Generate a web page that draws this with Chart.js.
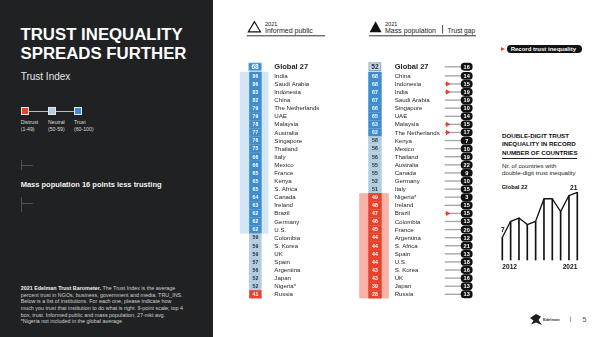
<!DOCTYPE html>
<html lang="en">
<head>
<meta charset="utf-8">
<title>Trust inequality spreads further</title>
<script src="https://cdn.jsdelivr.net/npm/chart.js@4.4.1/dist/chart.umd.min.js"></script>
<style>
  html, body { margin:0; padding:0; }
  body { position:relative; width:600px; height:337px; overflow:hidden; background:#fff;
         font-family:"Liberation Sans", Arial, Helvetica, sans-serif; color:#222; }
  .abs { position:absolute; }
  .txt { position:absolute; white-space:nowrap; line-height:1; }
  #side { left:0; top:0; width:213px; height:337px; background:#1f2123; }
  .sq { position:absolute; top:107.3px; width:7.7px; height:7.7px; box-sizing:border-box; border:0.8px solid #e6e6e6; }
</style>
</head>
<body>
<div id="side" class="abs"></div>

<!-- left panel -->
<div class="txt" style="left:20.5px;top:25.2px;font-size:16.8px;line-height:19.3px;font-weight:bold;color:#fff">TRUST INEQUALITY<br>SPREADS FURTHER</div>
<div class="txt" style="left:20.7px;top:71.5px;font-size:10px;color:#e6e6e6">Trust Index</div>

<div class="abs" style="left:29px;top:110.7px;width:45px;height:0.8px;background:#bdbdbd"></div>
<div class="sq" style="left:21.3px;background:#e8412c"></div>
<div class="sq" style="left:48px;background:#b3cde0"></div>
<div class="sq" style="left:74px;background:#3f8ccf"></div>
<div class="txt" style="left:20.7px;top:118.7px;font-size:5.2px;line-height:7px;color:#dcdcdc">Distrust<br>(1-49)</div>
<div class="txt" style="left:48px;top:118.7px;font-size:5.2px;line-height:7px;color:#dcdcdc">Neutral<br>(50-59)</div>
<div class="txt" style="left:74px;top:118.7px;font-size:5.2px;line-height:7px;color:#dcdcdc">Trust<br>(60-100)</div>

<div class="abs" style="left:21.3px;top:160px;width:0.8px;height:10px;background:#4d5053"></div>
<div class="abs" style="left:21.3px;top:164.6px;width:12px;height:0.8px;background:#4d5053"></div>
<div class="txt" style="left:20.7px;top:180.6px;font-size:7.5px;font-weight:bold;color:#f2f2f2">Mass population 16 points less trusting</div>
<div class="abs" style="left:21.3px;top:197.3px;width:0.8px;height:14.4px;background:#4d5053"></div>
<div class="abs" style="left:21.3px;top:202.9px;width:12px;height:0.8px;background:#4d5053"></div>

<div class="txt" style="left:20.7px;top:284.8px;font-size:5.4px;line-height:6.7px;color:#d0d0d0"><b style="color:#f0f0f0">2021 Edelman Trust Barometer.</b> The Trust Index is the average<br>percent trust in NGOs, business, government and media. TRU_INS.<br>Below is a list of institutions. For each one, please indicate how<br>much you trust that institution to do what is right. 9-point scale; top 4<br>box, trust. Informed public and mass population, 27-mkt avg.<br>*Nigeria not included in the global average</div>

<!-- column headers -->
<svg class="abs" style="left:0;top:0" width="600" height="40">
  <polygon points="248.4,31.8 254.4,21.6 260.4,31.8" fill="#fff" stroke="#111" stroke-width="1.2" stroke-linejoin="miter"/>
  <polygon points="369.6,32.2 375.6,21.2 381.6,32.2" fill="#111"/>
  <rect x="246.7" y="35.3" width="78.5" height="1" fill="#333"/>
  <rect x="369" y="35.3" width="107" height="1" fill="#333"/>
  <rect x="442.2" y="25" width="0.9" height="8.6" fill="#333"/>
</svg>
<div class="txt" style="left:265px;top:22px;font-size:5.6px;color:#222">2021</div>
<div class="txt" style="left:265px;top:27.1px;font-size:7px;color:#222">Informed public</div>
<div class="txt" style="left:385px;top:22px;font-size:5.6px;color:#222">2021</div>
<div class="txt" style="left:385px;top:27.1px;font-size:7px;color:#222">Mass population</div>
<div class="txt" style="left:447.5px;top:27.5px;font-size:6.6px;color:#222">Trust gap</div>

<!-- right-hand notes -->
<div class="abs" style="left:501px;top:46.6px;width:0;height:0;border-left:4.2px solid #e8412c;border-top:2.6px solid transparent;border-bottom:2.6px solid transparent"></div>
<div class="txt" style="left:506.7px;top:44.6px;width:75px;height:8px;border-radius:4px;background:#111;color:#fff;font-size:6px;line-height:8px;font-weight:bold;padding-left:4px;box-sizing:border-box">Record trust inequality</div>

<div class="txt" style="left:502px;top:132px;font-size:6.2px;line-height:8.3px;font-weight:bold;color:#111">DOUBLE-DIGIT TRUST<br>INEQUALITY IN RECORD<br>NUMBER OF COUNTRIES</div>
<div class="abs" style="left:502px;top:157.8px;width:75.3px;height:1px;background:#222"></div>
<div class="txt" style="left:502px;top:161.8px;font-size:6.2px;line-height:7.6px;color:#222">Nr. of countries with<br>double-digit trust inequality</div>
<div class="txt" style="left:501.7px;top:185.2px;font-size:5.7px;font-weight:bold;color:#111">Global 22</div>

<!-- footer -->
<svg class="abs" style="left:528px;top:312px" width="60" height="16">
  <path d="M2,6 L8,2 L13,4.5 L10.5,8 L14,13 L8,10.5 L3,12.5 L5.5,8.5 Z" fill="#1d1d1d"/>
  <text x="15" y="8.8" font-size="4" font-weight="bold" fill="#333" font-family="Liberation Sans, Arial, sans-serif">Edelman</text>
  <rect x="42" y="4.7" width="0.7" height="5.3" fill="#777"/>
</svg>
<div class="txt" style="left:582.4px;top:316px;font-size:7px;color:#555">5</div>

<canvas id="table" class="abs" width="600" height="337" style="left:0;top:0;width:600px;height:337px"></canvas>
<canvas id="spark" class="abs" width="92" height="96" style="left:494px;top:180px;width:92px;height:96px"></canvas>

<script>
// ---- data ----
const globalLabel = 'Global 27';
const globalInformed = 68;
const globalMass = 52;
const globalGap = 16;

const informedCountries = ['India','Saudi Arabia','Indonesia','China','The Netherlands','UAE','Malaysia','Australia',
  'Singapore','Thailand','Italy','Mexico','France','Kenya','S. Africa','Canada','Ireland','Brazil','Germany','U.S.',
  'Colombia','S. Korea','UK','Spain','Argentina','Japan','Nigeria*','Russia'];
const informedValues = [86,86,83,82,79,79,78,77,76,75,66,66,65,65,65,64,63,62,62,62,59,59,59,57,56,52,52,41];

const massCountries = ['China','Indonesia','India','Saudi Arabia','Singapore','UAE','Malaysia','The Netherlands',
  'Kenya','Mexico','Thailand','Australia','Canada','Germany','Italy','Nigeria*','Ireland','Brazil','Colombia','France',
  'Argentina','S. Africa','Spain','U.S.','S. Korea','UK','Japan','Russia'];
const massValues = [68,68,67,67,66,65,63,62,58,56,56,55,55,52,51,49,48,47,46,45,44,44,44,44,43,43,39,28];
const trustGap = [14,15,19,19,10,14,15,17,7,10,19,22,9,10,15,3,15,15,13,20,12,21,13,18,16,16,13,13];
const recordInequality = ['Indonesia','India','Malaysia','The Netherlands','Brazil'];

const sparkYears = ['2012','2013','2014','2015','2016','2017','2018','2019','2020','2021'];
const doubleDigitCounts = [7,12,13,11,12,19,19,15,20,21];

// ---- layout & style ----
const FONT = '"Liberation Sans", Arial, sans-serif';
const FILL = { trust:'#3f8ccf', neutral:'#b3cde0', distrust:'#e8412c' };
const INK  = { trust:'#ffffff', neutral:'#26333d', distrust:'#ffffff' };
const BAND = { trust:'#d3e6f8', distrust:'#f9b2a7' };
const GLOBAL_ROW = -0.12;       // header row sits a little apart from the country rows
const COL = {
  inf:  { box:[248.8,260.8], globalBox:[247.7,261.3], band:[239,268], nameX:274, bandFor:'trust' },
  mass: { box:[369.5,382.5], globalBox:[369.6,382.2], band:[360,390], nameX:396, bandFor:'distrust' },
  gap:  { line:[447,463.5], pill:[463.3,474.6], flagX:449.4 }
};
const PLOT = { top:44.14, bottom:317.9 };
const BOX_H = 7.6, GLOBAL_BOX_H = 8.4, PILL_H = 7.2;

function level(v){ return v >= 60 ? 'trust' : (v >= 50 ? 'neutral' : 'distrust'); }

const rows = (vals, span) => vals.map((v, i) => ({ x: span, y: i + 1, v }));

const datasets = [
  { label:'record', type:'scatter', order:-1,
    data: massCountries.map((c, i) => recordInequality.includes(c) ? { x: COL.gap.flagX, y: i + 1 } : null).filter(Boolean),
    pointStyle:'triangle', rotation:90, radius:3.1, backgroundColor:'#e8412c', borderWidth:0, clip:false },
  { label:'informed', type:'bar', data: rows(informedValues, COL.inf.box),
    backgroundColor: c => FILL[level(c.raw.v)], barThickness: BOX_H, grouped:false, clip:false },
  { label:'informedGlobal', type:'bar', data:[{ x: COL.inf.globalBox, y: GLOBAL_ROW, v: globalInformed }],
    backgroundColor: FILL.trust, borderColor:'#a8cdef', borderWidth:1, borderSkipped:false,
    barThickness: GLOBAL_BOX_H, grouped:false, clip:false },
  { label:'mass', type:'bar', data: rows(massValues, COL.mass.box),
    backgroundColor: c => FILL[level(c.raw.v)], barThickness: BOX_H, grouped:false, clip:false },
  { label:'massGlobal', type:'bar', data:[{ x: COL.mass.globalBox, y: GLOBAL_ROW, v: globalMass }],
    backgroundColor:'#cbdae6', borderColor:'#7e9bb0', borderWidth:1, borderSkipped:false,
    barThickness: GLOBAL_BOX_H, grouped:false, clip:false },
  { label:'gap', type:'bar',
    data: [{ x: COL.gap.pill, y: GLOBAL_ROW, v: globalGap }].concat(trustGap.map((g, i) => ({ x: COL.gap.pill, y: i + 1, v: g }))),
    backgroundColor:'#111111', borderRadius:3.6, borderSkipped:false, barThickness: PILL_H, grouped:false, clip:false },
  { label:'connector', type:'bar', order:1,
    data: [{ x: COL.gap.line, y: GLOBAL_ROW }].concat(trustGap.map((g, i) => ({ x: COL.gap.line, y: i + 1 }))),
    backgroundColor:'#a6a6a6', barThickness:0.7, grouped:false, clip:false }
];

function drawBand(ctx, xs, ys, col, vals){
  const idx = vals.map((v, i) => level(v) === col.bandFor ? i + 1 : null).filter(i => i !== null);
  if (!idx.length) return;
  const first = Math.min(...idx), last = Math.max(...idx);
  const x0 = xs.getPixelForValue(col.band[0]), x1 = xs.getPixelForValue(col.band[1]);
  const y0 = ys.getPixelForValue(first - 0.5), y1 = ys.getPixelForValue(last + 0.5);
  ctx.fillStyle = BAND[col.bandFor];
  ctx.fillRect(x0, Math.min(y0, y1), x1 - x0, Math.abs(y1 - y0));
}

const tableText = {
  id: 'tableText',
  beforeDatasetsDraw(chart){
    const { ctx, scales:{ x, y } } = chart;
    ctx.save();
    drawBand(ctx, x, y, COL.inf, informedValues);
    drawBand(ctx, x, y, COL.mass, massValues);
    ctx.restore();
  },
  afterDatasetsDraw(chart){
    const { ctx, scales:{ x, y } } = chart;
    const meta = name => chart.getDatasetMeta(chart.data.datasets.findIndex(d => d.label === name));
    ctx.save();
    ctx.textAlign = 'center';
    ctx.textBaseline = 'middle';

    // values inside the boxes
    const boxNumbers = (name, vals, size, ink) => {
      meta(name).data.forEach((el, i) => {
        const p = el.getCenterPoint();
        ctx.font = 'bold ' + size + 'px ' + FONT;
        ctx.fillStyle = ink || INK[level(vals[i])];
        ctx.fillText(String(vals[i]), p.x, p.y + 0.4);
      });
    };
    boxNumbers('informed', informedValues, 5.2);
    boxNumbers('mass', massValues, 5.2);
    boxNumbers('informedGlobal', [globalInformed], 6.6, '#ffffff');
    boxNumbers('massGlobal', [globalMass], 6.6, '#1e2a33');
    boxNumbers('gap', [globalGap].concat(trustGap), 5.6, '#ffffff');

    // row names
    ctx.textAlign = 'left';
    ctx.fillStyle = '#1e1e1e';
    ctx.font = 'bold 7.5px ' + FONT;
    ctx.fillText(globalLabel, x.getPixelForValue(COL.inf.nameX), y.getPixelForValue(GLOBAL_ROW) + 0.5);
    ctx.fillText(globalLabel, x.getPixelForValue(COL.mass.nameX), y.getPixelForValue(GLOBAL_ROW) + 0.5);
    ctx.font = '6.1px ' + FONT;
    informedCountries.forEach((c, i) => ctx.fillText(c, x.getPixelForValue(COL.inf.nameX), y.getPixelForValue(i + 1) + 0.4));
    massCountries.forEach((c, i) => ctx.fillText(c, x.getPixelForValue(COL.mass.nameX), y.getPixelForValue(i + 1) + 0.4));
    ctx.restore();
  }
};

new Chart(document.getElementById('table'), {
  type: 'bar',
  data: { datasets },
  options: {
    indexAxis: 'y',
    responsive: false,
    animation: false,
    devicePixelRatio: 1,
    events: [],
    layout: { padding: { top: PLOT.top, bottom: 337 - PLOT.bottom, left: 0, right: 0 } },
    scales: {
      x: { type: 'linear', min: 0, max: 600, display: false },
      y: { type: 'linear', min: -0.5, max: 28.5, reverse: true, display: false }
    },
    plugins: { legend: { display: false }, tooltip: { enabled: false } }
  },
  plugins: [tableText]
});

// ---- small trend chart: countries with double-digit trust inequality ----
const sparkText = {
  id: 'sparkText',
  afterDatasetsDraw(chart){
    const { ctx, chartArea } = chart;
    const pts = chart.getDatasetMeta(0).data;
    const first = pts[0], last = pts[pts.length - 1];
    ctx.save();
    ctx.fillStyle = '#111';
    ctx.font = 'bold 6.6px ' + FONT;
    ctx.textBaseline = 'alphabetic';
    ctx.textAlign = 'center';
    ctx.fillText(String(doubleDigitCounts[0]), first.x + 0.6, first.y - 5.6);
    ctx.textAlign = 'right';
    ctx.fillText(String(doubleDigitCounts[doubleDigitCounts.length - 1]), last.x, last.y - 2.4);
    ctx.textAlign = 'left';
    ctx.fillText(sparkYears[0], first.x, chartArea.bottom + 9.3);
    ctx.textAlign = 'right';
    ctx.fillText(sparkYears[sparkYears.length - 1], last.x, chartArea.bottom + 9.3);
    ctx.restore();
  }
};

new Chart(document.getElementById('spark'), {
  type: 'line',
  data: {
    labels: sparkYears,
    datasets: [
      { type: 'line', data: doubleDigitCounts, borderColor: '#111', borderWidth: 1.3, pointRadius: 0,
        tension: 0, clip: false, borderJoinStyle: 'round' },
      { type: 'bar', data: doubleDigitCounts, backgroundColor: '#111', barThickness: 1, clip: false }
    ]
  },
  options: {
    responsive: false,
    animation: false,
    devicePixelRatio: 1,
    events: [],
    layout: { padding: { left: 8.3, right: 8.7, top: 12.3, bottom: 16 } },
    scales: {
      x: { type: 'category', offset: false, display: false },
      y: { min: 0, max: 21, display: false }
    },
    plugins: { legend: { display: false }, tooltip: { enabled: false } }
  },
  plugins: [sparkText]
});
</script>
</body>
</html>
